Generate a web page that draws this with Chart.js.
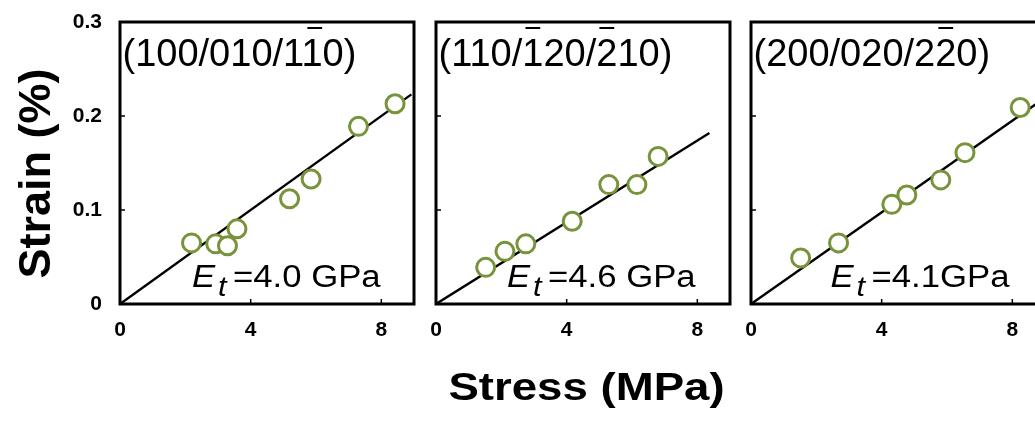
<!DOCTYPE html>
<html>
<head>
<meta charset="utf-8">
<script src="https://cdn.jsdelivr.net/npm/chart.js@4/dist/chart.umd.min.js"></script>
<style>
  html, body { margin: 0; padding: 0; background: #fff; overflow: hidden; }
  #wrap { position: relative; width: 1035px; height: 423px; overflow: hidden; background: #fff; }
  #wrap canvas { position: absolute; top: 0; }
</style>
</head>
<body>
<div id="wrap">
  <canvas id="p1" width="420" height="423" style="left:0px"></canvas>
  <canvas id="p2" width="320" height="423" style="left:420px"></canvas>
  <canvas id="p3" width="320" height="423" style="left:735px"></canvas>
</div>
<script>
// Lattice strain vs applied stress for three reflection families
const xTicks = [0, 4, 8];
const yTicks = [0, 0.1, 0.2, 0.3];
const yTickLabels = ['0', '0.1', '0.2', '0.3'];

const stress1 = [2.19, 2.93, 3.29, 3.58, 5.19, 5.85, 7.30, 8.42];
const strain1 = [0.065, 0.064, 0.062, 0.080, 0.112, 0.133, 0.189, 0.213];
const stress2 = [1.52, 2.11, 2.75, 4.17, 5.29, 6.15, 6.80];
const strain2 = [0.039, 0.056, 0.064, 0.088, 0.127, 0.127, 0.157];
const stress3 = [1.52, 2.68, 4.31, 4.77, 5.81, 6.55, 8.24];
const strain3 = [0.049, 0.065, 0.106, 0.116, 0.132, 0.161, 0.209];

// linear fits through the origin (slope = 1 / E_t)
const fit1X = [0, 8.92];
const fit1Y = [0, 0.223];
const fit2X = [0, 8.37];
const fit2Y = [0, 0.182];
const fit3X = [0, 9];
const fit3Y = [0, 0.2195];

// panel labels; U+0305 marks a barred index
const planes = ['(100/010/11\u03050)', '(110/1\u030520/2\u030510)', '(200/020/22\u03050)'];
const moduli = ['=4.0 GPa', '=4.6 GPa', '=4.1GPa'];

const xTitle = 'Stress (MPa)';
const yTitle = 'Strain (%)';

const FONT = "'Liberation Sans', Arial, Helvetica, sans-serif";
const GREEN = '#77933C';

function stretched(ctx, text, x, y, sx) {
  ctx.save();
  ctx.translate(x, y);
  ctx.scale(sx, 1);
  ctx.fillText(text, 0, 0);
  ctx.restore();
}

// draws "(hkl/...)" with overbars over the marked digits
function drawPlane(ctx, label, x, y) {
  let plain = '';
  const barred = [];
  for (const ch of label) {
    if (ch === '\u0305') { barred.push(plain.length - 1); }
    else { plain += ch; }
  }
  ctx.font = `38px ${FONT}`;
  ctx.textAlign = 'left';
  ctx.textBaseline = 'alphabetic';
  ctx.fillStyle = '#000';
  ctx.fillText(plain, x, y);
  ctx.strokeStyle = '#000';
  ctx.lineWidth = 2;
  for (const i of barred) {
    const x0 = x + ctx.measureText(plain.slice(0, i)).width;
    const w = ctx.measureText(plain[i]).width;
    ctx.beginPath();
    ctx.moveTo(x0 + 0.15 * w, y - 38);
    ctx.lineTo(x0 + 0.85 * w, y - 38);
    ctx.stroke();
  }
}

function framePlugin(idx, extra) {
  return {
    id: 'frame' + idx,
    afterDatasetsDraw(chart) {
      const ctx = chart.ctx;
      const a = chart.chartArea;
      const xs = chart.scales.x, ys = chart.scales.y;
      ctx.save();
      // plot box
      ctx.strokeStyle = '#000';
      ctx.lineWidth = 3;
      ctx.strokeRect(a.left, a.top, a.right - a.left, a.bottom - a.top);
      // inward tick marks
      ctx.lineWidth = 1.5;
      ctx.beginPath();
      for (const v of xTicks) {
        const px = xs.getPixelForValue(v);
        ctx.moveTo(px, a.bottom);
        ctx.lineTo(px, a.bottom - 5);
      }
      for (const v of yTicks) {
        const py = ys.getPixelForValue(v);
        ctx.moveTo(a.left, py);
        ctx.lineTo(a.left + 5, py);
      }
      ctx.stroke();
      // reflection label
      drawPlane(ctx, planes[idx], a.left + 2.5, a.top + 44);
      // modulus annotation
      const ex = a.left + [72, 71, 79.5][idx];
      const by = a.top + 265;
      ctx.fillStyle = '#000';
      ctx.textAlign = 'left';
      ctx.textBaseline = 'alphabetic';
      ctx.font = `italic 31px ${FONT}`;
      stretched(ctx, 'E', ex, by, 1.12);
      ctx.font = `italic 28px ${FONT}`;
      stretched(ctx, 't', ex + 26, by + 9, 1.1);
      ctx.font = `31px ${FONT}`;
      stretched(ctx, moduli[idx], ex + 41, by, 1.12);
      if (extra) extra(chart, ctx);
      ctx.restore();
    }
  };
}

function noPadding(s) {
  s.paddingTop = 0;
  s.paddingBottom = 0;
  s.paddingLeft = 0;
  s.paddingRight = 0;
}

function panel(canvasId, idx, stress, strain, fitX, fitY, axisWidth, padRight, showY, extra) {
  return new Chart(document.getElementById(canvasId), {
    type: 'scatter',
    data: {
      datasets: [
        {
          type: 'scatter',
          order: 0,
          data: stress.map((x, i) => ({ x: x, y: strain[i] })),
          pointStyle: 'circle',
          pointRadius: 9,
          pointHoverRadius: 9,
          pointBorderWidth: 3,
          pointBorderColor: GREEN,
          pointBackgroundColor: '#fff'
        },
        {
          type: 'line',
          order: 1,
          data: fitX.map((x, i) => ({ x: x, y: fitY[i] })),
          borderColor: '#000',
          borderWidth: 2.4,
          pointRadius: 0,
          fill: false,
          tension: 0
        }
      ]
    },
    options: {
      responsive: false,
      animation: false,
      devicePixelRatio: 1,
      events: [],
      layout: { autoPadding: false, padding: { top: 22, right: padRight, left: 0, bottom: 0 } },
      plugins: { legend: { display: false }, tooltip: { enabled: false } },
      scales: {
        x: {
          type: 'linear', min: 0, max: 9,
          grid: { display: false, drawTicks: false },
          border: { display: false },
          afterBuildTicks: s => { s.ticks = xTicks.map(v => ({ value: v })); },
          afterFit: s => { s.height = 119; noPadding(s); },
          ticks: {
            color: '#000', padding: 0, maxRotation: 0, autoSkip: false,
            font: { family: FONT, size: 21, weight: 'bold', lineHeight: 2.5 },
            callback: v => String(v)
          }
        },
        y: {
          type: 'linear', min: 0, max: 0.3,
          grid: { display: false, drawTicks: false },
          border: { display: false },
          afterBuildTicks: s => { s.ticks = yTicks.map(v => ({ value: v })); },
          afterFit: s => { s.width = axisWidth; noPadding(s); },
          ticks: {
            display: showY, color: '#000', padding: 18, autoSkip: false,
            font: { family: FONT, size: 21, weight: 'bold', lineHeight: 1 },
            callback: (v, i) => yTickLabels[i]
          }
        }
      }
    },
    plugins: [framePlugin(idx, extra)]
  });
}

panel('p1', 0, stress1, strain1, fit1X, fit1Y, 120, 6, true, (chart, ctx) => {
  ctx.save();
  ctx.translate(37.5, 173.5);
  ctx.rotate(-Math.PI / 2);
  ctx.font = `bold 45px ${FONT}`;
  ctx.textAlign = 'center';
  ctx.textBaseline = 'middle';
  ctx.fillStyle = '#000';
  ctx.fillText(yTitle, 0, 0);
  ctx.restore();
});

panel('p2', 1, stress2, strain2, fit2X, fit2Y, 16, 10, false, (chart, ctx) => {
  ctx.save();
  ctx.translate(166.5, 389.5);
  ctx.scale(1.2, 1);
  ctx.font = `bold 38px ${FONT}`;
  ctx.textAlign = 'center';
  ctx.textBaseline = 'middle';
  ctx.fillStyle = '#000';
  ctx.fillText(xTitle, 0, 0);
  ctx.restore();
});

panel('p3', 2, stress3, strain3, fit3X, fit3Y, 16, 10, false, null);
</script>
</body>
</html>
